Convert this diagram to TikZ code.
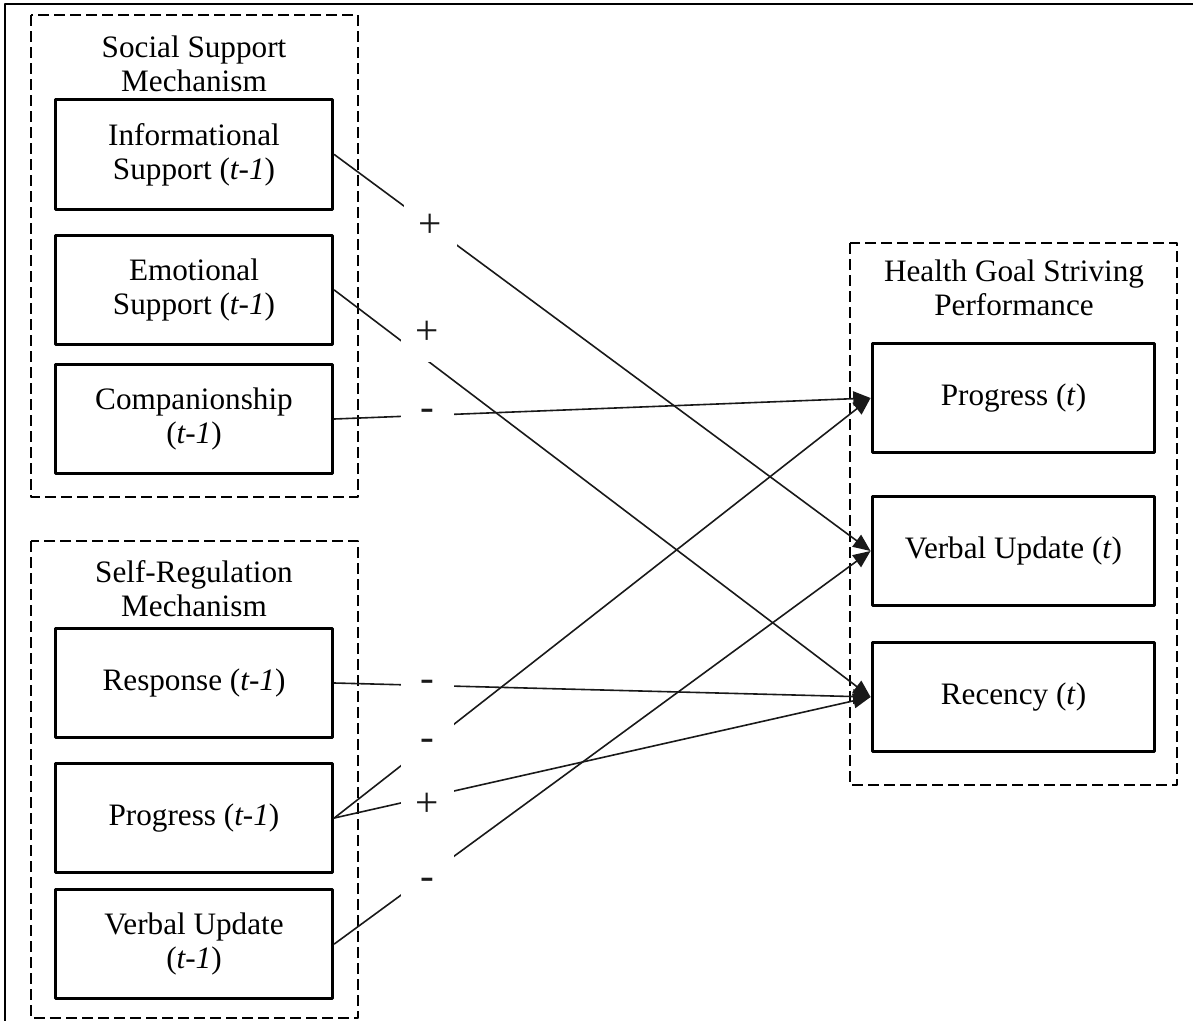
\documentclass[tikz,border=0pt]{standalone}
\usepackage{fontspec}
\setmainfont{Liberation Serif}
\usetikzlibrary{arrows.meta}

\begin{document}
\begin{tikzpicture}[line cap=round,line join=round,>={Triangle[length=13pt,width=11pt]},x=0.75pt,y=-0.75pt,
	every node/.style={font=\fontsize{23.4}{25.5}\selectfont},
	laatikko/.style={draw,line width=2.4pt,line cap=rect,minimum width=208pt,minimum height=82pt,align=center,inner sep=0pt},
	ryhma/.style={draw,line width=1.1pt,dash pattern=on 8pt off 4pt,line cap=butt},
	otsikko/.style={align=center},
	nuoli/.style={->,line width=1.2pt,color=black!90},
	merkki/.style={fill=white,font=\fontsize{31}{31}\selectfont,minimum width=40pt,minimum height=44pt,inner sep=0pt}]

		\useasboundingbox (0,0) rectangle (1193,1021);

		%kehys
		\draw[line width=1.6pt,line cap=butt] (5,1021)--(5,4)--(1193,4);

		%katkoviivalaatikot
		\draw[ryhma] (31,15) rectangle (358,497);
		\draw[ryhma] (31,541) rectangle (358,1018);
		\draw[ryhma] (850,243) rectangle (1177,785);

		\node[otsikko] (sosOts) at (194,64) {Social Support\\Mechanism};
		\node[otsikko] (saaOts) at (194,589) {Self-Regulation\\Mechanism};
		\node[otsikko] (tulOts) at (1014,288) {Health Goal Striving\\Performance};

		% vasemmat laatikot
		\node[laatikko] (info) at (194,154.5) {Informational\\Support (\textit{t-1})};
		\node[laatikko] (emo) at (194,290) {Emotional\\Support (\textit{t-1})};
		\node[laatikko] (comp) at (194,419) {Companionship\\(\textit{t-1})};

		\node[laatikko] (resp) at (194,683) {Response (\textit{t-1})};
		\node[laatikko] (progA) at (194,818) {Progress (\textit{t-1})};
		\node[laatikko] (verbA) at (194,944) {Verbal Update\\(\textit{t-1})};

		% oikeat laatikot
		\node[laatikko,minimum width=212pt] (progT) at (1013.5,398) {Progress (\textit{t})};
		\node[laatikko,minimum width=212pt] (verbT) at (1013.5,551) {Verbal Update (\textit{t})};
		\node[laatikko,minimum width=212pt] (rec) at (1013.5,697) {Recency (\textit{t})};

		% Varsinainen kuva: nuolet

		\draw[nuoli] (info.east)--node[merkki,pos=0.179]{+}(verbT.west);

		\draw[nuoli] (emo.east)--node[merkki,pos=0.174,yshift=21pt]{+}(rec.west);

		\draw[nuoli] (comp.east)--node[merkki,pos=0.174]{-}(progT.west);

		\draw[nuoli] (resp.east)--node[merkki,pos=0.174]{-}(rec.west);

		\draw[nuoli] (progA.east)--node[merkki,pos=0.174]{-}(progT.west);

		\draw[nuoli] (progA.east)--node[merkki,pos=0.174,yshift=-6pt]{+}(rec.west);

		\draw[nuoli] (verbA.east)--node[merkki,pos=0.174,yshift=-6pt]{-}(verbT.west);

	\end{tikzpicture}
\end{document}
